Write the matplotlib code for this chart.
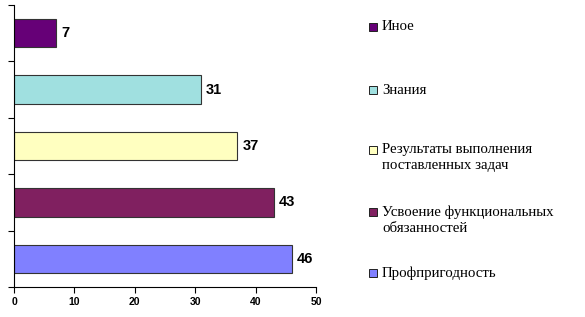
import matplotlib
matplotlib.use("Agg")
import matplotlib.pyplot as plt
from matplotlib.patches import Rectangle

categories = ["Профпригодность", "Усвоение функциональных\nобязанностей",
              "Результаты выполнения\nпоставленных задач", "Знания", "Иное"]
values = [46, 43, 37, 31, 7]
colors = ["#8080FF", "#802060", "#FFFFC0", "#A0E0E0", "#660077"]
xticks = [0, 10, 20, 30, 40, 50]

W, H = 585, 317
fig = plt.figure(figsize=(W / 100, H / 100), dpi=100)
ax = fig.add_axes([14 / W, 30 / H, (316 - 14) / W, (287 - 5) / H])

ys = list(range(len(values)))
ax.barh(ys, values, height=0.5, color=colors, edgecolor="#333333", linewidth=0.8)
for y, v in zip(ys, values):
    ax.text(v + 0.8, y, str(v), va="center", ha="left", fontsize=10.5,
            fontweight="bold", family="Liberation Sans")

ax.set_xlim(0, 50)
ax.set_ylim(-0.5, len(values) - 0.5)
ax.set_xticks(xticks)
ax.set_xticklabels([str(t) for t in xticks], fontsize=7.5, fontweight="bold",
                   family="Liberation Sans")
ax.set_yticks([i - 0.5 for i in range(len(values) + 1)])
ax.set_yticklabels([])
ax.tick_params(axis="x", direction="out", length=4, width=0.8, pad=3)
ax.tick_params(axis="y", direction="out", length=4, width=0.8)
for s in ["top", "right"]:
    ax.spines[s].set_visible(False)
ax.spines["left"].set_linewidth(0.8)
ax.spines["bottom"].set_linewidth(0.8)

# legend (manual placement to follow the reference)
leg_y = [273, 220, 158, 90, 27]
for lab, col, yc in zip(categories, colors, leg_y):
    nlines = lab.count("\n") + 1
    top_line_y = yc - (nlines - 1) * 8.5
    fig.patches.append(Rectangle((369 / W, 1 - (top_line_y + 4) / H), 8 / W, 8 / H,
                                 transform=fig.transFigure, facecolor=col,
                                 edgecolor="#222222", linewidth=0.7))
    fig.text(382 / W, 1 - yc / H, lab, va="center", ha="left", fontsize=10.7,
             family="Liberation Serif", linespacing=1.3)

fig.savefig("out.png", dpi=100)
